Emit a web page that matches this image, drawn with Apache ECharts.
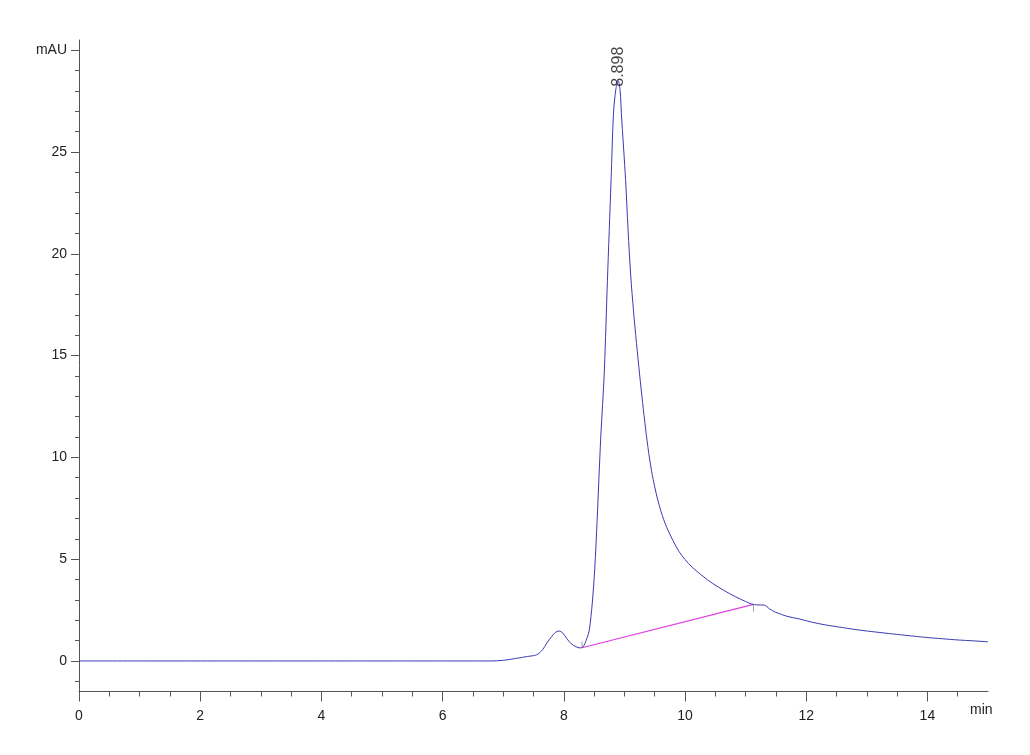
<!DOCTYPE html>
<html>
<head>
<meta charset="utf-8">
<script src="https://cdn.jsdelivr.net/npm/echarts@6/dist/echarts.min.js"></script>
<style>html,body{margin:0;padding:0;background:#fff}#c{width:1030px;height:755px}</style>
</head>
<body>
<div id="c"></div>
<script>
// Retention time (min)
var times = [0, 1, 2, 3, 4, 5, 6, 6.8, 7.0, 7.2, 7.4, 7.55, 7.65, 7.72, 7.8, 7.86, 7.92, 7.98, 8.05, 8.12, 8.2, 8.27,
  8.32, 8.38, 8.42, 8.47, 8.51, 8.55, 8.58, 8.61, 8.64, 8.67, 8.72, 8.78, 8.82, 8.86, 8.898, 8.93, 8.95, 9.02, 9.06,
  9.105, 9.15, 9.2, 9.25, 9.3, 9.35, 9.4, 9.45, 9.5, 9.55, 9.6, 9.65, 9.7, 9.8, 9.9, 10.0, 10.12, 10.3, 10.45, 10.65,
  10.83, 11.0, 11.1, 11.2, 11.3, 11.4, 11.49, 11.7, 11.88, 12.1, 12.32, 12.6, 12.87, 13.15, 13.42, 13.7, 13.97, 14.25,
  14.51, 14.75, 14.95, 15];
// Absorbance (mAU)
var signal = [0, 0, 0, 0, 0, 0, 0, 0, 0.03, 0.12, 0.22, 0.3, 0.55, 0.88, 1.2, 1.4, 1.47, 1.38, 1.1, 0.85, 0.7, 0.64,
  0.7, 1.1, 1.5, 2.85, 4.5, 6.9, 9.0, 11.0, 12.6, 14.3, 18.7, 23.6, 26.9, 28.1, 28.5, 28.0, 26.9, 23.6, 21.2,
  18.9, 17.2, 15.6, 14.1, 12.7, 11.4, 10.25, 9.3, 8.55, 7.92, 7.38, 6.93, 6.55, 5.92, 5.38, 4.98, 4.6, 4.15, 3.82, 3.45,
  3.16, 2.92, 2.8, 2.75, 2.75, 2.55, 2.4, 2.18, 2.07, 1.9, 1.77, 1.64, 1.52, 1.42, 1.33, 1.24, 1.16, 1.09,
  1.03, 0.99, 0.95, 0.94];
// Integration baseline (start, end)
var baseTimes = [8.30, 11.13];
var baseValues = [0.65, 2.78];
// Peak annotation
var peakTime = 8.898;
var peakValue = 28.5;
var peakLabel = '8.898';
// Axis ticks / labels
var xMajor = [0, 2, 4, 6, 8, 10, 12, 14];
var xMinor = [0.5, 1, 1.5, 2.5, 3, 3.5, 4.5, 5, 5.5, 6.5, 7, 7.5, 8.5, 9, 9.5, 10.5, 11, 11.5, 12.5, 13, 13.5, 14.5];
var yMajor = [0, 5, 10, 15, 20, 25, 30];
var yMinor = [-1, 1, 2, 3, 4, 6, 7, 8, 9, 11, 12, 13, 14, 16, 17, 18, 19, 21, 22, 23, 24, 26, 27, 28, 29];
var xUnit = 'min';
var yUnit = 'mAU';

var mainData = times.map(function (t, i) { return [t, signal[i]]; });
var baseData = baseTimes.map(function (t, i) { return [t, baseValues[i]]; });

var axisColor = '#555';
var font = '"Liberation Sans", Arial, sans-serif';

var chart = echarts.init(document.getElementById('c'), null, { renderer: 'canvas' });
chart.setOption({
  backgroundColor: '#fff',
  animation: false,
  grid: { left: 79, right: 42, top: 40, bottom: 63.5 },
  xAxis: [{
    type: 'value', min: 0, max: 15,
    name: xUnit, nameLocation: 'end', nameGap: -18,
    nameTextStyle: { color: '#222', fontFamily: font, fontSize: 14, align: 'left', verticalAlign: 'top', padding: [12, 0, 0, 0] },
    axisLine: { show: true, onZero: false, lineStyle: { color: axisColor, width: 1 } },
    axisTick: { show: true, customValues: xMajor, length: 10, lineStyle: { color: axisColor } },
    axisLabel: { customValues: xMajor, color: '#222', fontFamily: font, fontSize: 14, margin: 18 },
    splitLine: { show: false }
  }, {
    type: 'value', min: 0, max: 15, position: 'bottom',
    axisLine: { show: false, onZero: false },
    axisTick: { show: true, customValues: xMinor, length: 5, lineStyle: { color: axisColor } },
    axisLabel: { show: false },
    splitLine: { show: false }
  }],
  yAxis: [{
    type: 'value', min: -1.5, max: 30.5,
    axisLine: { show: true, onZero: false, lineStyle: { color: axisColor, width: 1 } },
    axisTick: { show: true, customValues: yMajor, length: 8, lineStyle: { color: axisColor } },
    axisLabel: {
      customValues: yMajor, color: '#222', fontFamily: font, fontSize: 14, margin: 12,
      formatter: function (v) { return v === 30 ? yUnit : String(v); }
    },
    splitLine: { show: false }
  }, {
    type: 'value', min: -1.5, max: 30.5, position: 'left',
    axisLine: { show: false, onZero: false },
    axisTick: { show: true, customValues: yMinor, length: 4, lineStyle: { color: axisColor } },
    axisLabel: { show: false },
    splitLine: { show: false }
  }],
  series: [{
    type: 'line', data: mainData, xAxisIndex: 0, yAxisIndex: 0,
    showSymbol: false, smooth: 0.3,
    lineStyle: { color: '#3a3ab4', width: 1 }, z: 3
  }, {
    type: 'line', data: baseData, xAxisIndex: 0, yAxisIndex: 0,
    showSymbol: false, lineStyle: { color: '#e040e0', width: 1.2 }, z: 2
  }, {
    type: 'scatter', data: [baseData[0]], xAxisIndex: 0, yAxisIndex: 0,
    symbol: 'rect', symbolSize: [1, 6], symbolOffset: [0, -3],
    itemStyle: { color: '#888' }, z: 4
  }, {
    type: 'scatter', data: [baseData[1]], xAxisIndex: 0, yAxisIndex: 0,
    symbol: 'rect', symbolSize: [1, 7], symbolOffset: [0, 4],
    itemStyle: { color: '#888' }, z: 4
  }, {
    type: 'scatter', data: [[peakTime, peakValue]], xAxisIndex: 0, yAxisIndex: 0,
    symbolSize: 0, z: 5,
    label: {
      show: true, formatter: peakLabel, position: 'inside', rotate: 90,
      align: 'left', verticalAlign: 'middle', offset: [-6, 0],
      color: '#111', fontFamily: font, fontSize: 16
    }
  }]
});
</script>
</body>
</html>
